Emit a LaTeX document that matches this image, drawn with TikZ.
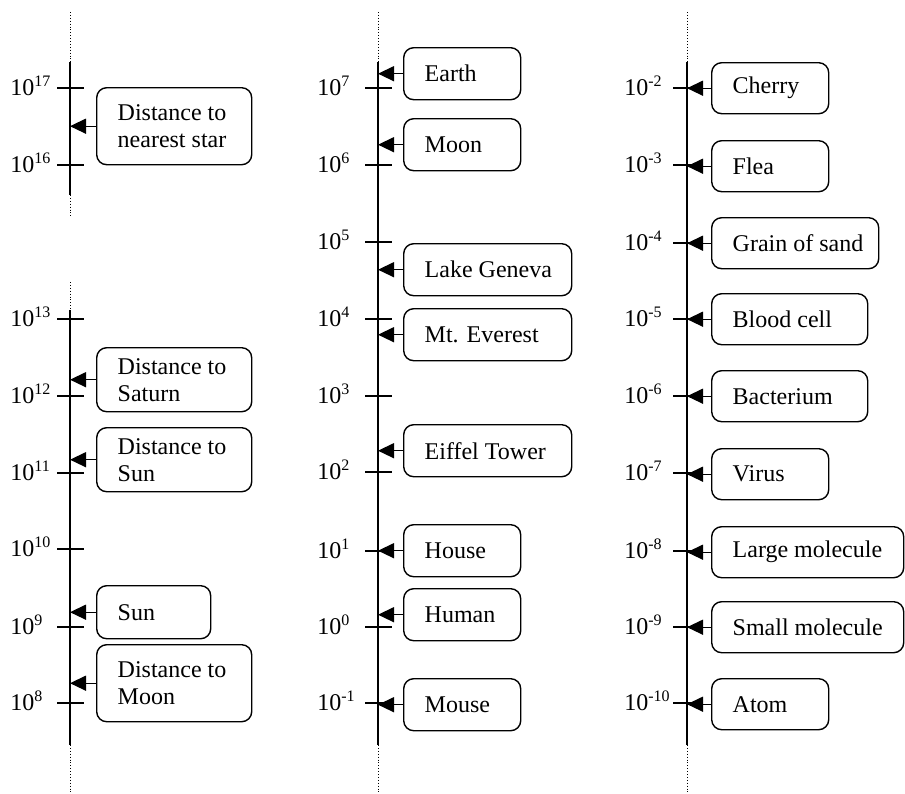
\documentclass[tikz,border=0pt]{standalone}
\usepackage{fontspec}
\setmainfont{Liberation Serif}
\usetikzlibrary{arrows.meta}
\begin{document}
\begin{tikzpicture}[x=0.5pt,y=-0.5pt,
  box/.style={draw, line width=0.7pt, rounded corners=5pt, anchor=north west,
    align=flush left, inner xsep=10.5pt, inner ysep=0pt,
    font=\fontsize{12}{13.5}\selectfont},
  arr/.style={-{Triangle[length=8pt,width=7.5pt]}, line width=0.7pt},
  axisline/.style={line width=0.7pt},
  dotline/.style={line width=0.45pt, densely dotted},
  tickline/.style={line width=0.7pt},
  ticklabel/.style={anchor=base west, inner sep=0pt, font=\fontsize{12}{13.5}\selectfont}
]
\useasboundingbox (0,0) rectangle (905,793);

% axis coordinates
\coordinate (A1) at (70,0);
\coordinate (A2) at (378,0);
\coordinate (A3) at (687,0);

% ---------- column 1 axes ----------
\draw[dotline] (70,12) -- (70,62);
\draw[axisline] (70,62) -- (70,195);
\draw[dotline] (70,195) -- (70,218);
\draw[dotline] (70,282) -- (70,310);
\draw[axisline] (70,310) -- (70,745);
\draw[dotline] (70,745) -- (70,792);

% ---------- column 2 axis ----------
\draw[dotline] (378,12) -- (378,62);
\draw[axisline] (378,62) -- (378,745);
\draw[dotline] (378,745) -- (378,792);

% ---------- column 3 axis ----------
\draw[dotline] (687,12) -- (687,62);
\draw[axisline] (687,62) -- (687,745);
\draw[dotline] (687,745) -- (687,792);

% ---------- ticks and labels ----------
\foreach \e/\y in {17/88,16/165,13/319,12/396,11/473,10/549,9/627,8/703}{
  \draw[tickline] (57,\y) -- (84,\y);
  \node[ticklabel] (la\e) at (10,\y+7) {10\textsuperscript{\e}};
}
\foreach \e/\y/\n in {7/88/p7,6/165/p6,5/242/p5,4/319/p4,3/396/p3,2/472/p2,1/551/p1,0/627/p0,-1/703/m1}{
  \draw[tickline] (365,\y) -- (392,\y);
  \node[ticklabel] (lb\n) at (317,\y+7) {10\textsuperscript{\e}};
}
\foreach \e/\y/\n in {-2/88/m2,-3/165/m3,-4/243/m4,-5/319/m5,-6/396/m6,-7/473/m7,-8/551/m8,-9/627/m9,-10/703/m10}{
  \draw[tickline] (673,\y) -- (700,\y);
  \node[ticklabel] (lc\n) at (624,\y+7) {10\textsuperscript{\e}};
}

% ---------- column 1 boxes ----------
\node[box, text width=56.5pt, minimum height=38.5pt] (star) at (96,87) {\mbox{Distance to}\\\mbox{nearest star}};
\node[box, text width=56.5pt, minimum height=32pt] (saturn) at (96,347) {\mbox{Distance to}\\Saturn};
\node[box, text width=56.5pt, minimum height=32pt] (dsun) at (96,427) {\mbox{Distance to}\\Sun};
\node[box, text width=36pt, minimum height=26.5pt] (sun) at (96,585) {Sun};
\node[box, text width=56.5pt, minimum height=38.5pt] (dmoon) at (96,644) {\mbox{Distance to}\\Moon};

% ---------- column 2 boxes ----------
\node[box, text width=37.5pt, minimum height=26pt] (earth) at (403,47) {Earth};
\node[box, text width=37.5pt, minimum height=26pt] (moon) at (403,118) {Moon};
\node[box, text width=63pt, minimum height=26pt] (geneva) at (403,243) {\mbox{Lake Geneva}};
\node[box, text width=63pt, minimum height=26pt] (everest) at (403,308) {\mbox{Mt. Everest}};
\node[box, text width=63pt, minimum height=26pt] (eiffel) at (403,424) {\mbox{Eiffel Tower}};
\node[box, text width=37.5pt, minimum height=26pt] (house) at (403,524) {House};
\node[box, text width=37.5pt, minimum height=26pt] (human) at (403,588) {Human};
\node[box, text width=37.5pt, minimum height=26pt] (mouse) at (403,678) {Mouse};

% ---------- column 3 boxes ----------
\node[box, text width=37.5pt, minimum height=25.5pt] (cherry) at (711,62) {Cherry};
\node[box, text width=37.5pt, minimum height=25.5pt] (flea) at (711,140) {Flea};
\node[box, text width=62.5pt, minimum height=25.5pt] (sand) at (711,217) {\mbox{Grain of sand}};
\node[box, text width=57pt, minimum height=25.5pt] (blood) at (711,293) {\mbox{Blood cell}};
\node[box, text width=57pt, minimum height=25.5pt] (bact) at (711,370) {Bacterium};
\node[box, text width=37.5pt, minimum height=25.5pt] (virus) at (711,448) {Virus};
\node[box, text width=75pt, minimum height=25.5pt] (large) at (711,526) {\mbox{Large molecule}};
\node[box, text width=75pt, minimum height=25.5pt] (small) at (711,601) {\mbox{Small molecule}};
\node[box, text width=37.5pt, minimum height=25.5pt] (atom) at (711,678) {Atom};

% ---------- arrows ----------
\foreach \b in {star,saturn,dsun,sun,dmoon}{
  \draw[arr] (\b.west) -- (\b.west -| A1);
}
\foreach \b in {earth,moon,geneva,everest,eiffel,house,human,mouse}{
  \draw[arr] (\b.west) -- (\b.west -| A2);
}
\foreach \b in {cherry,flea,sand,blood,bact,virus,large,small,atom}{
  \draw[arr] (\b.west) -- (\b.west -| A3);
}
\end{tikzpicture}
\end{document}
